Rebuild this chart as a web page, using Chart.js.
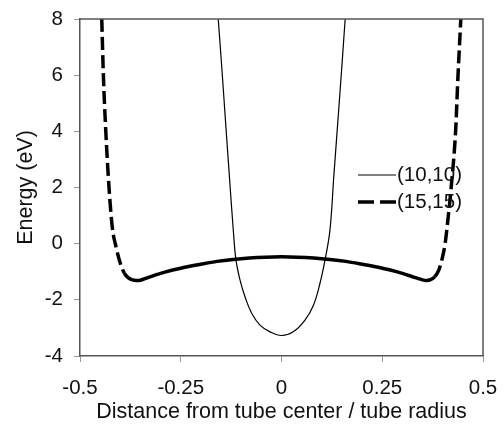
<!DOCTYPE html>
<html>
<head>
<meta charset="utf-8">
<script src="https://cdn.jsdelivr.net/npm/chart.js@4.4.0/dist/chart.umd.min.js"></script>
<style>
  html, body { margin: 0; padding: 0; background: #fff; }
  #wrap { position: relative; width: 504px; height: 432px; }
</style>
</head>
<body>
<div id="wrap"><canvas id="energy"></canvas></div>
<script>
// (10,10) tube
var x10 = [-0.157, -0.1486, -0.140, -0.1295, -0.1195, -0.113, -0.103, -0.0906, -0.074, -0.0534, -0.0285, 0,
           0.029, 0.0583, 0.079, 0.0955, 0.108, 0.1203, 0.130, 0.141, 0.150, 0.158];
var y10 = [8, 6.36, 4.58, 2.44, 0.46, -0.58, -1.29, -1.89, -2.48, -2.90, -3.14, -3.27,
           -3.14, -2.72, -2.2, -1.41, -0.58, 0.49, 2.44, 4.58, 6.36, 8];

// (15,15) tube
var x15 = [-0.446, -0.442, -0.436, -0.428, -0.42, -0.41, -0.40, -0.39, -0.38, -0.37, -0.36, -0.35, -0.33, -0.30, -0.27, -0.24, -0.20, -0.16, -0.12, -0.08, -0.04, 0,
           0.04, 0.08, 0.12, 0.16, 0.20, 0.24, 0.27, 0.30, 0.33, 0.35, 0.36, 0.37, 0.38, 0.39, 0.40, 0.406, 0.414, 0.421, 0.432, 0.438, 0.445];
var y15 = [8, 6, 4, 2, 0.6, -0.15, -0.7, -1.05, -1.22, -1.29, -1.31, -1.30, -1.2, -1.06, -0.94, -0.84, -0.73, -0.63, -0.56, -0.51, -0.48, -0.47,
           -0.48, -0.51, -0.56, -0.63, -0.73, -0.84, -0.94, -1.06, -1.2, -1.29, -1.31, -1.28, -1.18, -0.95, -0.45, 0, 1, 2, 4, 6, 8];

var names = ["(10,10)", "(15,15)"];
var xTicks = [-0.5, -0.25, 0, 0.25, 0.5];

function pts(xs, ys) {
    return xs.map(function(x, i){ return {x: x, y: ys[i]}; });
}

var font = "'Liberation Sans', Arial, sans-serif";

// legend and frame drawn inside the plot
var legendBox = {
    id: 'legendBox',
    afterDraw: function(chart) {
        var c = chart.ctx, a = chart.chartArea;
        c.save();
        c.strokeStyle = '#555';
        c.lineWidth = 1.5;
        c.beginPath();
        c.moveTo(a.left, a.top);
        c.lineTo(a.right, a.top);
        c.lineTo(a.right, a.bottom);
        c.stroke();

        var rows = [{y: 175, w: 1.2, dash: []}, {y: 202, w: 3.5, dash: [16, 6]}];
        c.fillStyle = '#111';
        c.font = '20.5px ' + font;
        c.textBaseline = 'middle';
        rows.forEach(function(r, i){
            c.strokeStyle = '#000';
            c.lineWidth = r.w;
            c.setLineDash(r.dash);
            c.beginPath();
            c.moveTo(358, r.y);
            c.lineTo(396, r.y);
            c.stroke();
            c.setLineDash([]);
            c.fillText(names[i], 397, r.y);
        });
        c.restore();
    }
};

new Chart(document.getElementById('energy'), {
    type: 'scatter',
    data: {
        datasets: [
            {
                label: names[0],
                data: pts(x10, y10),
                showLine: true,
                borderColor: '#000',
                borderWidth: 1.2,
                pointRadius: 0,
                tension: 0.4
            },
            {
                label: names[1],
                data: pts(x15, y15),
                showLine: true,
                borderColor: '#000',
                borderWidth: 3.5,
                pointRadius: 0,
                cubicInterpolationMode: 'monotone',
                segment: {
                    // dashes only on the steep walls, like the original
                    borderDash: function(ctx) {
                        var dx = Math.abs(ctx.p1.x - ctx.p0.x), dy = Math.abs(ctx.p1.y - ctx.p0.y);
                        return dy > dx * 1.6 ? [13, 5] : [];
                    }
                }
            }
        ]
    },
    options: {
        responsive: true,
        maintainAspectRatio: false,
        animation: false,
        layout: { padding: { top: 19, right: 21, left: 0, bottom: 0 } },
        plugins: { legend: { display: false }, tooltip: { enabled: false } },
        scales: {
            x: {
                type: 'linear',
                min: -0.5, max: 0.5,
                afterBuildTicks: function(axis){ axis.ticks = xTicks.map(function(v){ return {value: v}; }); },
                afterFit: function(axis){ axis.height = 76; axis.paddingLeft = 0; axis.paddingRight = 0; },
                grid: { drawOnChartArea: false, color: '#999', tickLength: 6 },
                border: { color: '#555', width: 1.5 },
                ticks: { color: '#111', font: { family: font, size: 20.5 }, padding: 14, maxRotation: 0,
                         callback: function(v){ return String(v); } },
                title: { display: true, text: 'Distance from tube center / tube radius', color: '#111',
                         font: { family: font, size: 21.5 }, padding: { top: 0, bottom: 7 } }
            },
            y: {
                min: -4, max: 8,
                ticks: { stepSize: 2, color: '#111', font: { family: font, size: 20.5 }, padding: 11 },
                afterFit: function(axis){ axis.width = 80; axis.paddingTop = 0; axis.paddingBottom = 0; },
                grid: { drawOnChartArea: false, color: '#999', tickLength: 6 },
                border: { color: '#555', width: 1.5 },
                title: { display: true, text: 'Energy (eV)', color: '#111',
                         font: { family: font, size: 21.5 }, padding: { top: 13, bottom: 0 } }
            }
        }
    },
    plugins: [legendBox]
});
</script>
</body>
</html>
